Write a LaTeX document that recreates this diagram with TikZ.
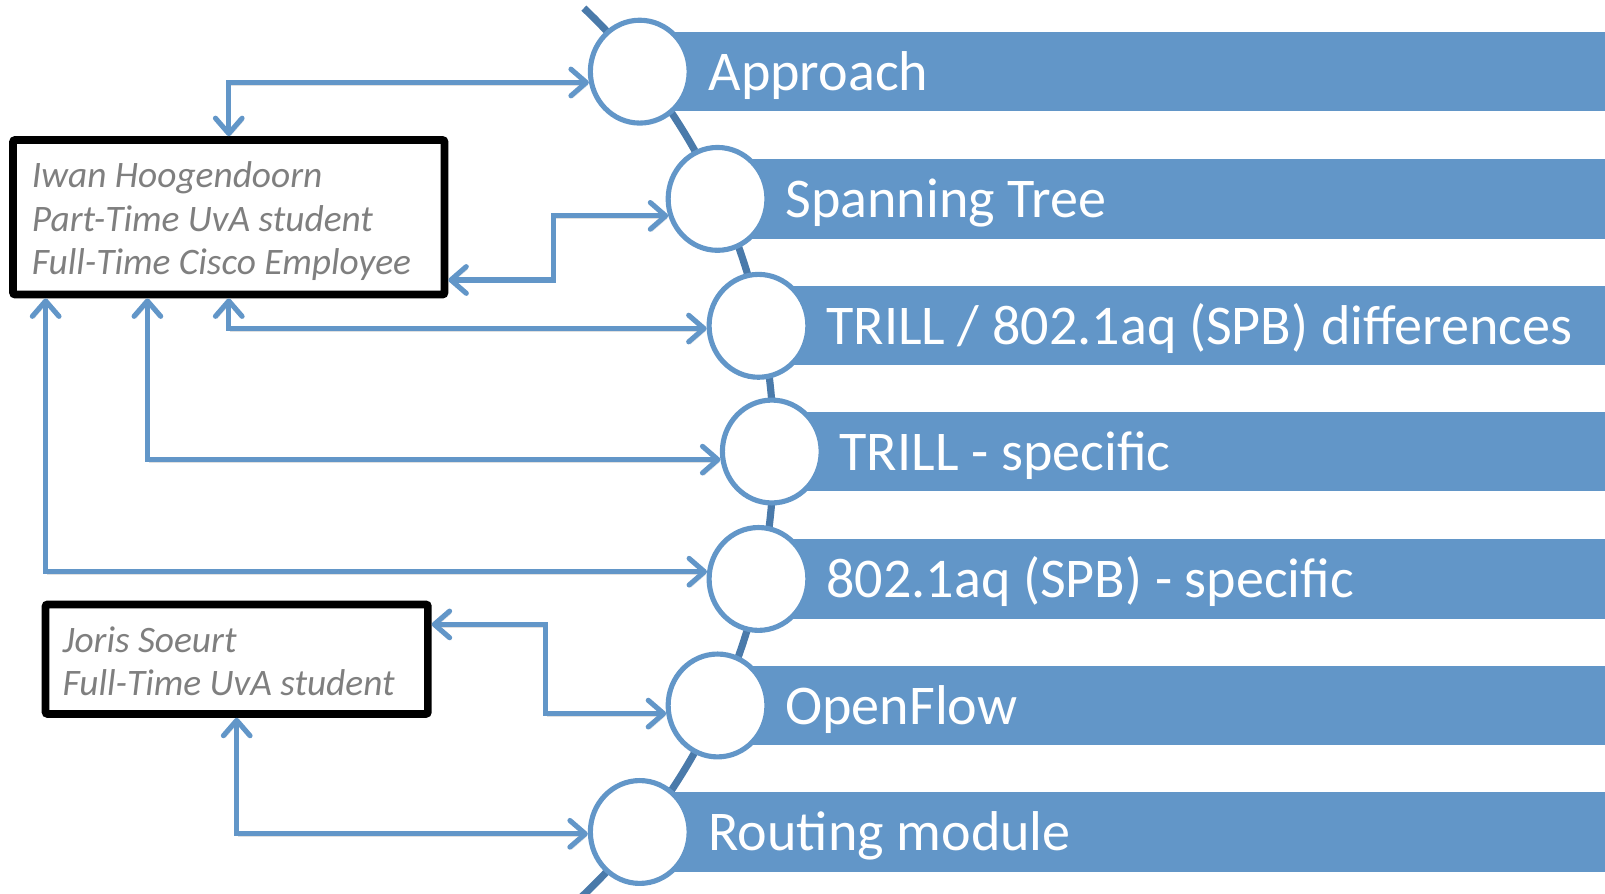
\documentclass[tikz,border=0pt]{standalone}
\usepackage{fontspec}
\setmainfont{Carlito}
\usetikzlibrary{arrows.meta,shapes.geometric}
\definecolor{barblue}{RGB}{98,150,200}
\definecolor{spineblue}{RGB}{74,122,170}
\definecolor{notegray}{RGB}{127,127,127}
\begin{document}
\begin{tikzpicture}[x=1pt,y=-1pt,
  stage/.style={ellipse, draw=barblue, line width=5pt, fill=white,
    minimum width=96.5pt, minimum height=100.5pt, inner sep=0pt},
  stagelabel/.style={anchor=base west, text=white, inner sep=0pt,
    font=\fontsize{54.8}{60}\selectfont},
  notebox/.style={draw=black, line width=7.5pt, rounded corners=2pt,
    fill=white, inner sep=0pt},
  noteline/.style={anchor=base west, inner sep=0pt, text=notegray,
    font=\fontsize{36.5}{43}\selectfont\itshape},
  barb/.tip={Straight Barb[length=15pt,width=26pt,round]},
  link/.style={draw=barblue, line width=5pt, barb-barb,
    preaction={draw=black, draw opacity=0.12,
      transform canvas={shift={(1.5pt,-2.5pt)}}}},
  spine/.style={draw=spineblue, line width=7pt}
]
\useasboundingbox (0,0) rectangle (1568,873);

% curved spine behind the stages
\begin{scope}
  \clip (0,0) rectangle (1568,873);
  \draw[spine] ([shift={(46.4:598pt)}]158,441)
    arc[start angle=46.4, end angle=-50, radius=598pt];
\end{scope}

% stage bars
\foreach \cx/\cy in {625/70, 701/194.3, 741/318.3, 754/441.1,
                     741/565.6, 701/689.2, 625/812.8}
  \fill[barblue] (\cx,\cy-38.75) rectangle (1568,\cy+38.75);

% stage circles
\node[stage] (s1) at (625,70) {};
\node[stage] (s2) at (701,194.3) {};
\node[stage] (s3) at (741,318.3) {};
\node[stage] (s4) at (754,441.1) {};
\node[stage] (s5) at (741,565.6) {};
\node[stage] (s6) at (701,689.2) {};
\node[stage] (s7) at (625,812.8) {};

% stage titles
\node[stagelabel] (t1) at (692,88.5) {Approach};
\node[stagelabel] (t2) at (767,212.8) {Spanning Tree};
\node[stagelabel] (t3) at (807,336.8) {TRILL / 802.1aq (SPB) differences};
\node[stagelabel] (t4) at (820,459.6) {TRILL - specific};
\node[stagelabel] (t5) at (807,584.1) {802.1aq (SPB) - specific};
\node[stagelabel] (t6) at (767,707.7) {OpenFlow};
\node[stagelabel] (t7) at (692,831.3) {Routing module};

% people
\node[notebox, minimum width=421.5pt, minimum height=151pt] (iwan) at (223.5,212.25) {};
\node[noteline] (iwan1) at (31,183) {Iwan Hoogendoorn};
\node[noteline] (iwan2) at (31,226) {Part-Time UvA student};
\node[noteline] (iwan3) at (31,268) {Full-Time Cisco Employee};

\node[notebox, minimum width=373.5pt, minimum height=107pt] (joris) at (231.25,644) {};
\node[noteline] (joris1) at (61,637) {Joris Soeurt};
\node[noteline] (joris2) at (61,679) {Full-Time UvA student};

% responsibilities
\coordinate (k2) at (540.5,273.5);
\coordinate (k4) at (144,0);
\coordinate (k5) at (44.6,0);
\coordinate (k6) at (533,610);

\draw[link] (iwan.north) |- (s1.192);
\draw[link] (iwan.east |- k2) -- (k2) |- (s2.199);
\draw[link] (iwan.south) |- (s3.183);
\draw[link] (iwan.south -| k4) |- (s4.189);
\draw[link] (iwan.south -| k5) |- (s5.172);
\draw[link] (joris.east |- k6) -- (k6) |- (s6.189);
\draw[link] (joris.south) |- (s7.182);
\end{tikzpicture}
\end{document}
